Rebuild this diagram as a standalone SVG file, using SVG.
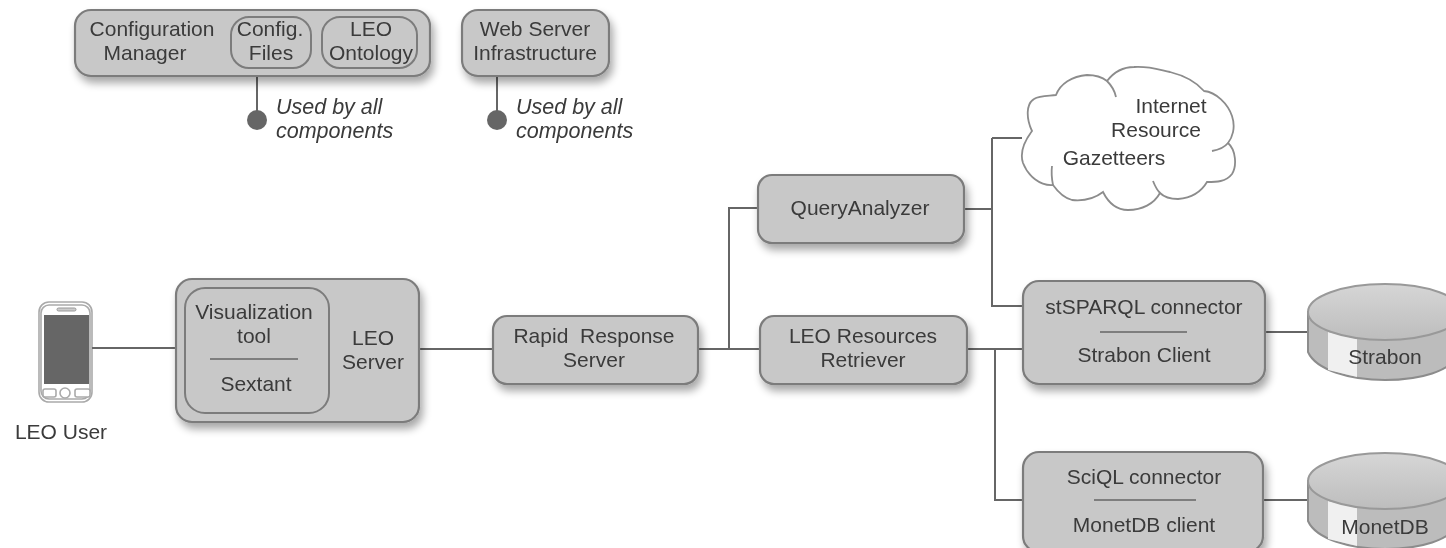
<svg xmlns="http://www.w3.org/2000/svg" width="1446" height="548" viewBox="0 0 1446 548">
<style>
text{font-family:"Liberation Sans",Arial,sans-serif;font-size:21px;fill:#3a3a3a;text-anchor:middle;white-space:pre}
.i{font-style:italic;text-anchor:start;font-size:21.5px}
.box{fill:#c8c8c8;stroke:#7c7c7c;stroke-width:2.2;filter:url(#s)}
.inner{fill:#c8c8c8;stroke:#7c7c7c;stroke-width:2}
.c{fill:none;stroke:#666;stroke-width:2}
.sep{stroke:#666;stroke-width:1.5}
.dot{fill:#666}
.dbtop{fill:url(#top);stroke:#999;stroke-width:2}
.dbside{fill:#bcbcbc;stroke:#8c8c8c;stroke-width:2}
.hl{fill:#f0f0f0}
.ph{fill:#fff;stroke:#aaa;stroke-width:1.6}
.cl{fill:none;stroke:#8c8c8c;stroke-width:1.8}
</style>
<defs>
<filter id="s" x="-10%" y="-15%" width="125%" height="140%"><feGaussianBlur in="SourceAlpha" stdDeviation="4"/><feOffset dx="3" dy="6"/><feComponentTransfer><feFuncA type="linear" slope=".35"/></feComponentTransfer><feMerge><feMergeNode/><feMergeNode in="SourceGraphic"/></feMerge></filter>
<filter id="soft" filterUnits="userSpaceOnUse" x="0" y="0" width="1446" height="548"><feGaussianBlur stdDeviation="0.5"/></filter>
<linearGradient id="top" x1="0" y1="0" x2="0" y2="1"><stop offset="0" stop-color="#d6d6d6"/><stop offset="1" stop-color="#bdbdbd"/></linearGradient>
</defs>
<rect width="1446" height="548" fill="#fff"/>
<g filter="url(#soft)">
<g id="leo-user">
<rect x="39" y="302" width="53" height="100" rx="10" class="ph"/>
<rect x="41" y="305" width="49" height="94" rx="8" class="ph"/>
<rect x="44" y="315" width="45" height="69" fill="#666"/>
<rect x="57" y="308" width="19" height="3" rx="1.5" fill="#ccc" stroke="#999"/>
<rect x="43" y="389" width="13" height="8" rx="2" class="ph"/>
<rect x="75" y="389" width="15" height="8" rx="2" class="ph"/>
<circle cx="65" cy="393" r="5" class="ph"/>
<text x="61" y="439">LEO User</text>
</g>
<g id="connectors">
<path class="c" d="M92 348H176M419 349H493M698 349H760M729 349V208H758M964 209H992M992 138V306H1024M1022 138H992M967 349H1024M995 349V500H1024M1265 332H1310M1263 500H1310"/>
<path class="c" d="M257 76V120M497 76V120"/>
<circle class="dot" cx="257" cy="120" r="10"/>
<circle class="dot" cx="497" cy="120" r="10"/>
</g>
<g id="config-manager">
<rect class="box" x="75" y="10" width="355" height="66" rx="16"/>
<text x="152" y="36">Configuration</text><text x="145" y="60">Manager</text>
<rect class="inner" x="231" y="17" width="80" height="51" rx="18"/>
<text x="270" y="36">Config.</text><text x="271" y="60">Files</text>
<rect class="inner" x="322" y="17" width="95" height="51" rx="18"/>
<text x="371" y="36">LEO</text><text x="371" y="60">Ontology</text>
</g>
<g id="web-server">
<rect class="box" x="462" y="10" width="147" height="66" rx="16"/>
<text x="535" y="36">Web Server</text><text x="535" y="60">Infrastructure</text>
</g>
<g id="note-1"><text class="i" x="276" y="114">Used by all</text><text class="i" x="276" y="138">components</text></g>
<g id="note-2"><text class="i" x="516" y="114">Used by all</text><text class="i" x="516" y="138">components</text></g>
<g id="leo-server">
<rect class="box" x="176" y="279" width="243" height="143" rx="16"/>
<rect class="inner" x="185" y="288" width="144" height="125" rx="20"/>
<text x="254" y="319">Visualization</text><text x="254" y="343">tool</text>
<line class="sep" x1="210" y1="359" x2="298" y2="359"/>
<text x="256" y="391">Sextant</text>
<text x="373" y="345">LEO</text><text x="373" y="369">Server</text>
</g>
<g id="rapid-response">
<rect class="box" x="493" y="316" width="205" height="68" rx="14"/>
<text x="594" y="343">Rapid  Response</text><text x="594" y="367">Server</text>
</g>
<g id="query-analyzer">
<rect class="box" x="758" y="175" width="206" height="68" rx="14"/>
<text x="860" y="215">QueryAnalyzer</text>
</g>
<g id="resources-retriever">
<rect class="box" x="760" y="316" width="207" height="68" rx="14"/>
<text x="863" y="343">LEO Resources</text><text x="863" y="367">Retriever</text>
</g>
<g id="cloud">
<path d="M1032 131C1026 118 1026 104 1034 99C1040 95 1050 96 1056 95C1060 84 1072 76 1087 75C1095 75 1102 77 1107 81C1114 72 1122 67 1134 67C1150 66 1160 70 1170 72C1186 76 1198 84 1204 91C1216 92 1228 104 1232 116C1236 128 1232 138 1228 143C1236 150 1237 166 1232 174C1226 182 1216 182 1207 182C1200 194 1190 198 1178 199C1170 199 1164 197 1160 193C1154 204 1142 210 1128 210C1116 210 1108 202 1103 192C1094 199 1082 201 1072 200C1064 198 1058 192 1053 185C1040 186 1028 176 1023 163C1020 154 1023 143 1032 131Z" fill="#fff" stroke="#8c8c8c" stroke-width="1.8"/>
<path class="cl" d="M1107 81C1112 86 1115 92 1116 97M1228 143C1224 148 1218 150 1212 151M1053 185C1052 180 1051 174 1052 166M1160 193C1157 190 1155 186 1153 181"/>
<text x="1171" y="113">Internet</text><text x="1156" y="137">Resource</text><text x="1114" y="165">Gazetteers</text>
</g>
<g id="stsparql">
<rect class="box" x="1023" y="281" width="242" height="103" rx="16"/>
<text x="1144" y="314">stSPARQL connector</text>
<line class="sep" x1="1100" y1="332" x2="1187" y2="332"/>
<text x="1144" y="362">Strabon Client</text>
</g>
<g id="sciql">
<rect class="box" x="1023" y="452" width="240" height="100" rx="16"/>
<text x="1144" y="484">SciQL connector</text>
<line class="sep" x1="1094" y1="500" x2="1196" y2="500"/>
<text x="1144" y="532">MonetDB client</text>
</g>
<g id="strabon">
<path class="dbside" d="M1308 312V352C1316 370 1350 380 1385 380C1420 380 1450 372 1462 352V312Z"/>
<path class="hl" d="M1328 332L1357 339V377L1328 370Z"/>
<ellipse class="dbtop" cx="1385" cy="312" rx="77" ry="28"/>
<text x="1385" y="364">Strabon</text>
</g>
<g id="monetdb">
<path class="dbside" d="M1308 481V521C1316 539 1350 549 1385 549C1420 549 1450 541 1462 521V481Z"/>
<path class="hl" d="M1328 501L1357 508V546L1328 539Z"/>
<ellipse class="dbtop" cx="1385" cy="481" rx="77" ry="28"/>
<text x="1385" y="534">MonetDB</text>
</g>
</g>
</svg>
